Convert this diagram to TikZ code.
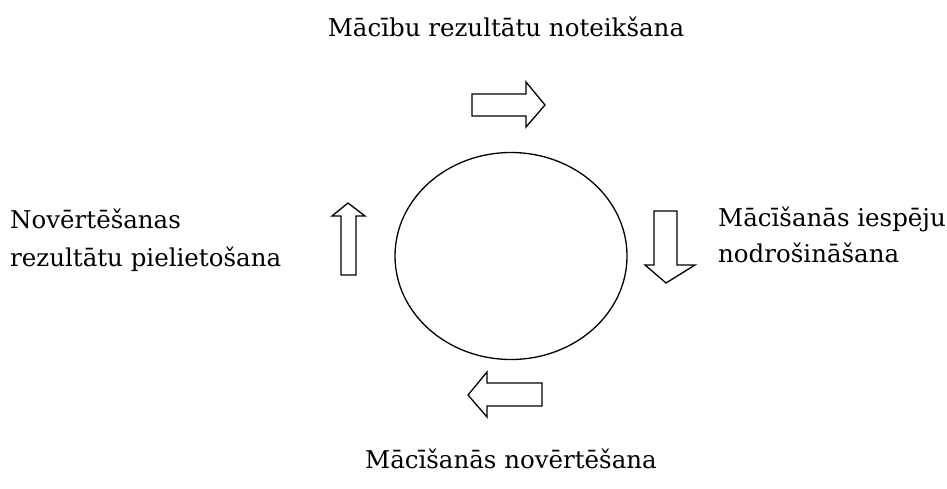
\documentclass[tikz,border=0pt]{standalone}
\usepackage{fontspec}
\usetikzlibrary{shapes.geometric}
\setmainfont{DejaVu Serif}
\begin{document}
\begin{tikzpicture}[x=1pt,y=-1pt,
  lbl/.style={font=\fontsize{24.5}{38}\selectfont, inner sep=0pt},
  blockarrow/.style={draw=black, line width=1.3pt, fill=white, line join=miter},
  ring/.style={draw=black, line width=1.3pt}]
\useasboundingbox[fill=white] (0,0) rectangle (947,488);
% circle
\node[ring, ellipse, minimum width=232, minimum height=207, inner sep=0] (c) at (511,256) {};
% labels
\node[lbl, anchor=base] (top) at (506,36) {Mācību rezultātu noteikšana};
\node[lbl, anchor=base] (bot) at (511,468) {Mācīšanās novērtēšana};
\node[lbl, anchor=base west] (l1) at (10,228) {Novērtēšanas};
\node[lbl, anchor=base west] (l2) at (10,266) {rezultātu pielietošana};
\node[lbl, anchor=base west] (r1) at (718,226) {Mācīšanās iespēju};
\node[lbl, anchor=base west] (r2) at (718,262) {nodrošināšana};
% block arrows
\draw[blockarrow] (472,94) -- (526,94) -- (526,82) -- (545,105) -- (526,127) -- (526,116) -- (472,116) -- cycle;
\draw[blockarrow] (654,211) -- (677,211) -- (677,265) -- (695,265) -- (666,283) -- (645,265) -- (654,265) -- cycle;
\draw[blockarrow] (542,383) -- (487,383) -- (487,372) -- (468,395) -- (487,417) -- (487,406) -- (542,406) -- cycle;
\draw[blockarrow] (341,275) -- (341,216) -- (332,216) -- (348,203) -- (365,216) -- (356,216) -- (356,275) -- cycle;
\end{tikzpicture}
\end{document}
